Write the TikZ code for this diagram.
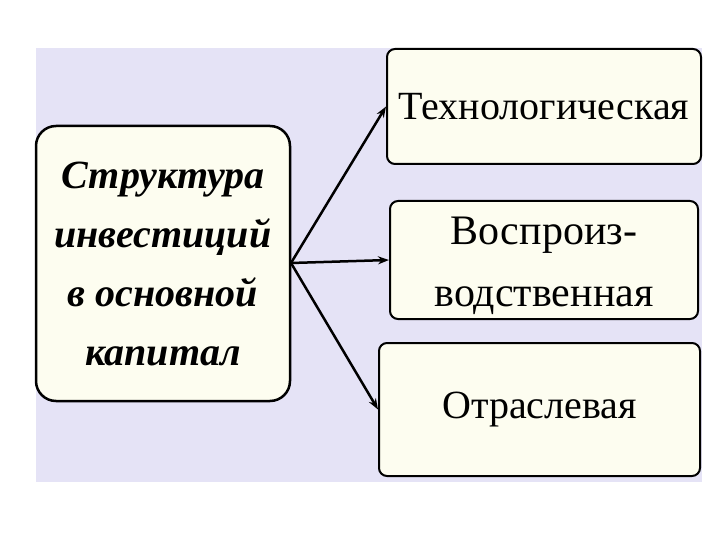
\documentclass[tikz,border=0pt]{standalone}
\usepackage{fontspec}
\setmainfont{Liberation Serif}
\usetikzlibrary{arrows.meta}
\begin{document}
\begin{tikzpicture}[x=1pt,y=-1pt]
\definecolor{fonlav}{HTML}{E5E3F6}
\definecolor{kotakisi}{HTML}{FDFDF0}
\tikzset{
  kotak/.style={draw=black, fill=kotakisi, line width=2pt, rounded corners=8pt, inner sep=0pt, align=center},
  panah/.style={-{Stealth[length=11pt,width=8pt]}, line width=2.5pt}
}
\useasboundingbox (0,0) rectangle (720,540);
\fill[fonlav] (36,48) rectangle (702,482);
\node[kotak, line width=2.5pt, rounded corners=20pt, minimum width=254pt, minimum height=275pt,
  font=\fontsize{40}{59}\selectfont\bfseries\itshape] (struktur) at (163,263.5)
  {Структура\\инвестиций\\в основной\\капитал};
\node[kotak, minimum width=314pt, minimum height=115pt, font=\fontsize{40}{48}\selectfont] (tekno) at (544,106.5) {Технологическая};
\node[kotak, minimum width=308pt, minimum height=118pt] (repro) at (544,260) {};
\node[align=center, inner sep=0pt, font=\fontsize{42}{62}\selectfont] (reprotext) at ([yshift=-6pt]repro.center) {Воспроиз-\\водственная};
\node[kotak, minimum width=321pt, minimum height=133pt, font=\fontsize{40}{48}\selectfont] (otrasl) at (539.5,409.5) {Отраслевая};
\coordinate (cabang) at (291,263);
\draw[panah] (cabang) -- (tekno.west);
\draw[panah] (cabang) -- (repro.west);
\draw[panah] (cabang) -- (otrasl.west);
\end{tikzpicture}
\end{document}
